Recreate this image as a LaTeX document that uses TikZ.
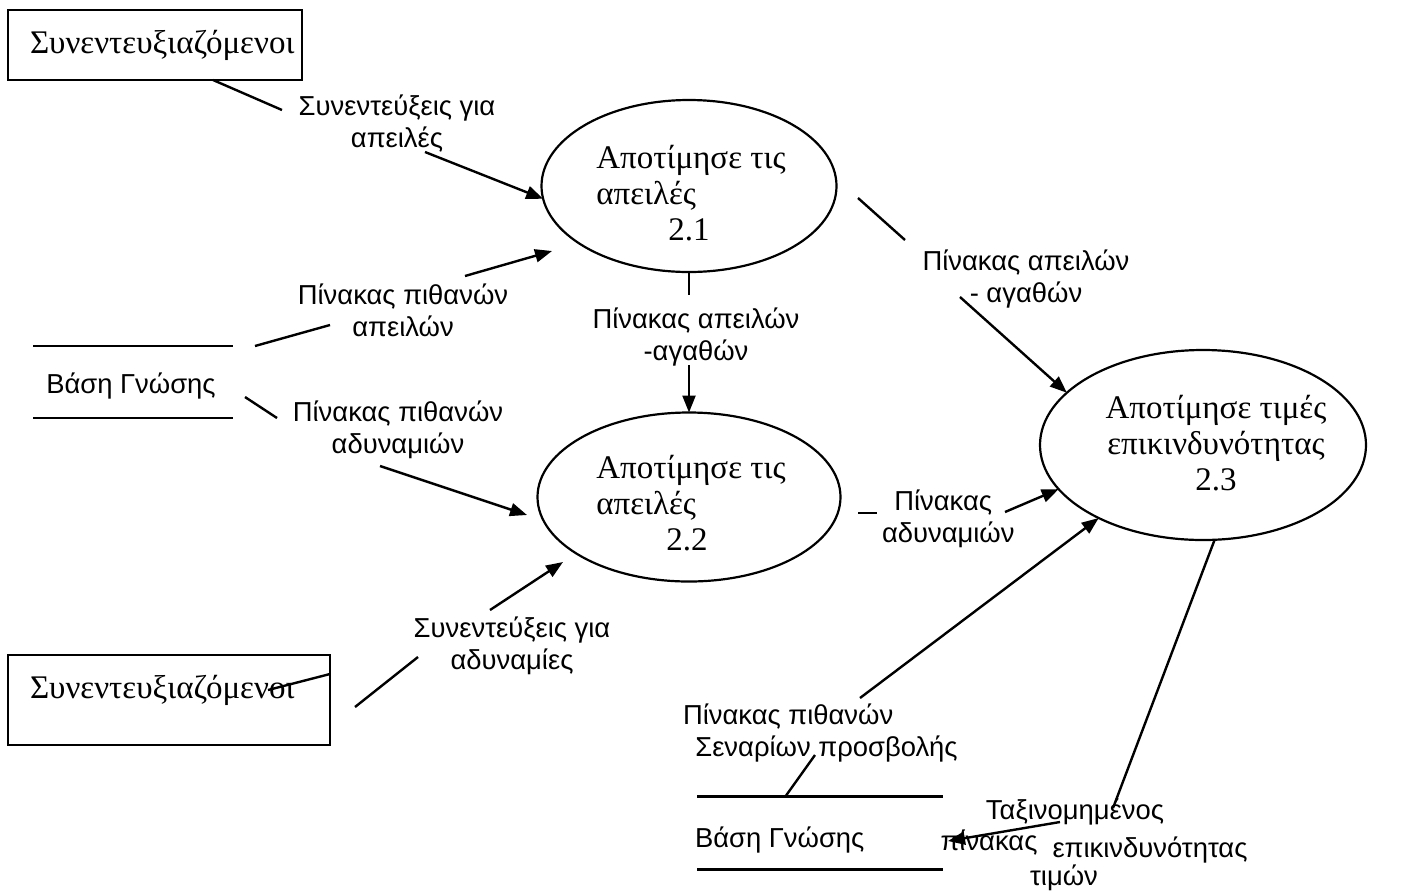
\documentclass[tikz,border=0pt]{standalone}
\usepackage{fontspec}
\setmainfont{Liberation Serif}
\newfontfamily\lsans{Liberation Sans}
\usetikzlibrary{shapes.geometric,arrows.meta,calc}
\begin{document}
\begin{tikzpicture}[x=0.5pt,y=-0.5pt,
  every node/.style={inner sep=0pt,outer sep=0pt},
  conn/.style={line width=1.2pt},
  flow/.style={conn,-{Triangle[length=8.5pt,width=6.5pt]}},
  proc/.style={ellipse,draw,line width=1.1pt},
  ptext/.style={font=\fontsize{16.5}{18}\selectfont},
  lab/.style={font=\lsans\fontsize{13.7}{16}\selectfont,align=center},
  store/.style={minimum height=36pt},
]
\useasboundingbox (0,0) rectangle (1403,890);

% external entities
\node[draw,conn,minimum width=147pt,minimum height=35pt] (box1) at (155,45) {};
\node[ptext,anchor=west] (box1t) at (30,45) {Συνεντευξιαζόμενοι};
\node[draw,conn,minimum width=161pt,minimum height=45pt] (box2) at (169,700) {};
\node[ptext,anchor=west] (box2t) at (30,690) {Συνεντευξιαζόμενοι};

% data stores
\node[store,minimum width=100pt] (kb1) at (133,382) {};
\draw[conn] (kb1.north west) -- (kb1.north east) (kb1.south west) -- (kb1.south east);
\node[lab] (kb1t) at (131,386) {Βάση Γνώσης};
\node[store,minimum width=123pt,minimum height=36.5pt] (kb2) at (820,833) {};
\draw[conn] (kb2.north west) -- (kb2.north east) (kb2.south west) -- (kb2.south east);
\node[lab,anchor=west] (kb2t) at (695,840) {Βάση Γνώσης};

% processes
\node[proc,minimum width=147.5pt,minimum height=86pt] (e21) at (689,186) {};
\node[ptext,align=left] (e21t) at (691,193) {Αποτίμησε τις\\απειλές\\\hspace*{36pt}2.1};
\node[proc,minimum width=151.5pt,minimum height=84.5pt] (e22) at (689,497) {};
\node[ptext,align=left] (e22t) at (691,503) {Αποτίμησε τις\\απειλές\\\hspace*{35pt}2.2};
\node[proc,minimum width=163pt,minimum height=95pt] (e23) at (1203,445) {};
\node[ptext,align=center] (e23t) at (1216,443) {Αποτίμησε τιμές\\επικινδυνότητας\\2.3};

% labels
\node[lab] (l1) at (397,124) {Συνεντεύξεις για\\απειλές};
\node[lab] (l2) at (403,310) {Πίνακας πιθανών\\απειλών};
\node[lab] (l3) at (398,430) {Πίνακας πιθανών\\αδυναμιών};
\node[lab] (l4) at (696,337) {Πίνακας απειλών\\-αγαθών};
\node[lab] (l5) at (1026,279) {Πίνακας απειλών\\- αγαθών};
\node[lab,align=left,anchor=west] (l6) at (882,519) {\hspace*{0.45em}Πίνακας\\αδυναμιών};
\node[lab] (l7) at (512,646) {Συνεντεύξεις για\\αδυναμίες};
\node[lab,align=left,anchor=west] (l8) at (683,733) {Πίνακας πιθανών\\\hspace*{0.45em}Σεναρίων προσβολής};
\node[lab] (l9a) at (1075,812) {Ταξινομημένος};
\node[lab] (l9b) at (989,843) {πίνακας};
\node[lab] (l9c) at (1150,850) {επικινδυνότητας};
\node[lab] (l9d) at (1064,878) {τιμών};

% connector end points
\coordinate (c1a) at (282,110);
\coordinate (c1b) at (425,152);
\coordinate (c2a) at (255,346);
\coordinate (c2b) at (330,325);
\coordinate (c2c) at (465,276);
\coordinate (c2d) at (552,251);
\coordinate (c3a) at (245,397);
\coordinate (c3b) at (277,418);
\coordinate (c3c) at (380,466);
\coordinate (c3d) at (527,515);
\coordinate (c4a) at (689,295);
\coordinate (c4b) at (689,365);
\coordinate (c5a) at (858,198);
\coordinate (c5b) at (905,240);
\coordinate (c5c) at (960,297);
\coordinate (c6a) at (858,513);
\coordinate (c6b) at (877,513);
\coordinate (c6c) at (1005,512);
\coordinate (c7a) at (355,707);
\coordinate (c7b) at (418,657);
\coordinate (c7c) at (490,610);
\coordinate (c7d) at (563,562);
\coordinate (c7s) at (268,690);
\coordinate (c7t) at (330,674);
\coordinate (c8a) at (785,797);
\coordinate (c8b) at (815,755);
\coordinate (c8c) at (860,698);
\coordinate (c9a) at (1113,808);
\coordinate (c9b) at (1060,822);
\coordinate (c9c) at (948,841);

% connectors
\draw[conn] ([xshift=29pt]box1.south) -- (c1a);
\draw[flow] (c1b) -- (e21.185);
\draw[conn] (c2a) -- (c2b);
\draw[flow] (c2c) -- (c2d);
\draw[conn] (c3a) -- (c3b);
\draw[flow] (c3c) -- (c3d);
\draw[conn] (e21.south) -- (c4a);
\draw[flow] (c4b) -- (e22.north);
\draw[conn] (c5a) -- (c5b);
\draw[flow] (c5c) -- (e23.159.4);
\draw[conn] (c6a) -- (c6b);
\draw[flow] (c6c) -- (e23.197.6);
\draw[conn] (c7a) -- (c7b);
\draw[flow] (c7c) -- (c7d);
\draw[conn] (c7s) -- (c7t);
\draw[conn] (c8a) -- (c8b);
\draw[flow] (c8c) -- (e23.215.8);
\draw[conn] (e23.277.2) -- (c9a);
\draw[flow] (c9b) -- (c9c);
\end{tikzpicture}
\end{document}
